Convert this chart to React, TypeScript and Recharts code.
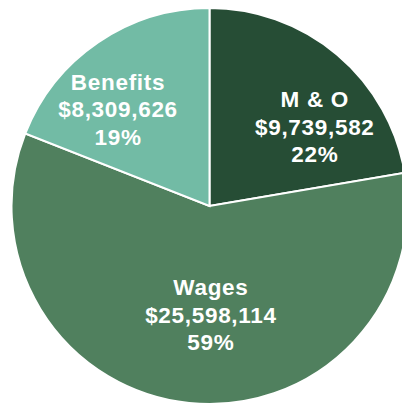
import { PieChart, Pie, Cell } from "recharts";

const categories = ["M & O", "Wages", "Benefits"];
const amounts = [9739582, 25598114, 8309626];
const colors = ["#264d35", "#50805e", "#72bba5"];

// where each label sits (polar, from pie centre): angle in degrees, radius in px
const labelSpots = [
  { angle: 34, radius: 127 },
  { angle: -89.3, radius: 117 },
  { angle: 135.8, radius: 127.6 },
];

const total = amounts.reduce((a, b) => a + b, 0);
const data = categories.map((name, i) => ({ name, value: amounts[i] }));

const RAD = Math.PI / 180;
const LINE = 27.5;

const renderLabel = (props: any) => {
  const { cx, cy, index } = props;
  const spot = labelSpots[index];
  const x = cx + spot.radius * Math.cos(spot.angle * RAD);
  const y = cy - spot.radius * Math.sin(spot.angle * RAD);
  const pct = Math.round((amounts[index] / total) * 100);
  return (
    <text
      x={x}
      y={y}
      fill="#ffffff"
      textAnchor="middle"
      fontFamily="'Liberation Sans', Arial, sans-serif"
      fontWeight="bold"
      fontSize={22.5}
      letterSpacing={0.7}
    >
      <tspan x={x} y={y - LINE}>
        {categories[index]}
      </tspan>
      <tspan x={x} y={y}>
        ${amounts[index].toLocaleString("en-US")}
      </tspan>
      <tspan x={x} y={y + LINE}>
        {pct}%
      </tspan>
    </text>
  );
};

export default function App() {
  return (
    <div
      style={{
        position: "fixed",
        left: 0,
        top: 0,
        width: 402,
        height: 406,
        overflow: "hidden",
        background: "#ffffff",
      }}
    >
      <PieChart
        width={420}
        height={406}
        margin={{ top: 0, right: 0, bottom: 0, left: 0 }}
      >
        <Pie
          data={data}
          dataKey="value"
          cx={209.5}
          cy={206}
          outerRadius={198}
          startAngle={90}
          endAngle={-270}
          stroke="#ffffff"
          strokeWidth={2}
          label={renderLabel}
          labelLine={false}
          isAnimationActive={false}
        >
          {data.map((d, i) => (
            <Cell key={d.name} fill={colors[i]} />
          ))}
        </Pie>
      </PieChart>
    </div>
  );
}
